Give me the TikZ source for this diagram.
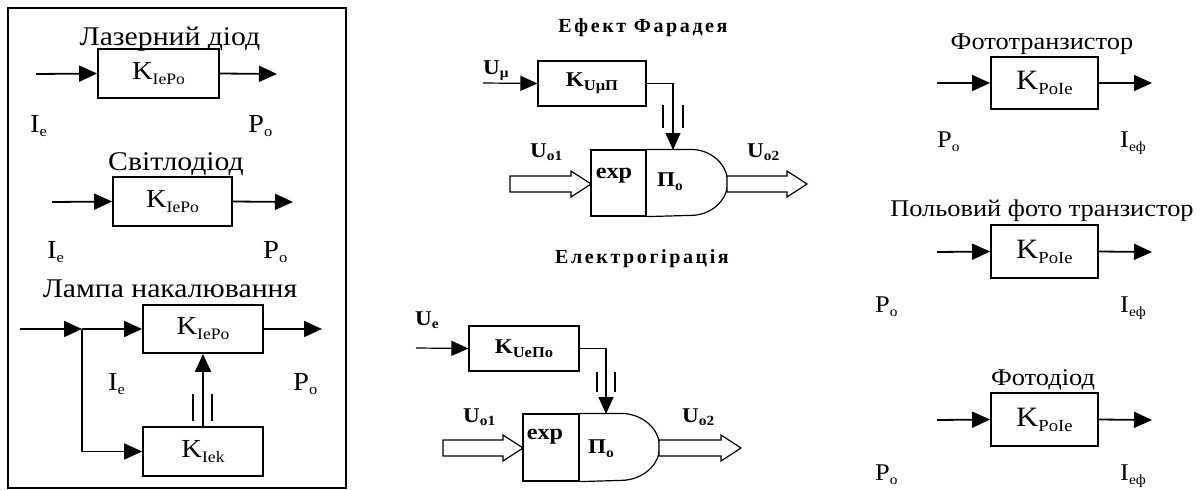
\documentclass[tikz,border=0pt]{standalone}
\usepackage{fontspec}
\setmainfont{Liberation Serif}[FakeStretch=1.1]
\newfontfamily\lsfont{Liberation Serif}[LetterSpace=13]
\usetikzlibrary{arrows.meta,calc}
\newcommand{\SL}[5]{{\fontsize{#3}{#3}\selectfont #1}\raisebox{-#5pt}{\fontsize{#4}{#4}\selectfont #2}}
\tikzset{
  blk/.style={draw, line width=1.8pt, inner sep=0pt},
  thinblk/.style={draw, line width=1.2pt, inner sep=0pt},
  sig/.style={line width=1.8pt, -{Triangle[length=18pt,width=16pt]}},
  thinsig/.style={line width=1.2pt, -{Triangle[length=17pt,width=15pt]}},
  bar/.style={line width=1.5pt},
  hollow/.style={draw, line width=1.2pt, fill=white},
  ttl/.style={inner sep=0pt, anchor=base, font=\fontsize{24}{24}\selectfont},
  lttl/.style={inner sep=0pt, anchor=base, font=\fontsize{27}{27}\selectfont},
  btl/.style={inner sep=0pt, anchor=base, font=\lsfont\bfseries\fontsize{20}{20}\selectfont},
  lbl/.style={inner sep=0pt, anchor=base west},
}
\begin{document}
\begin{tikzpicture}[x=1pt,y=-1pt]
\useasboundingbox (0,0) rectangle (1203,490);
% ---------- left panel ----------
\draw[line width=1.8pt] (8,8) rectangle (346,488);
\node[lttl] (t1) at (170,45) {Лазерний діод};
\node[blk, minimum width=121pt, minimum height=49pt] (b1) at (158.5,73.5) {\SL{K}{IePo}{26}{16}{5}};
\coordinate (i1) at (36,74);
\coordinate (o1) at (277,74);
\draw[sig] (i1) -- (b1.west);
\draw[sig] (b1.east) -- (o1);
\node[lbl] (l1a) at (30,132) {\SL{I}{e}{26}{15}{4}};
\node[lbl] (l1b) at (248,132) {\SL{P}{o}{26}{15}{4}};

\node[lttl] (t2) at (176,170) {Світлодіод};
\node[blk, minimum width=119pt, minimum height=49pt] (b2) at (172.5,201.5) {\SL{K}{IePo}{26}{16}{5}};
\coordinate (i2) at (52,202);
\coordinate (o2) at (293,202);
\draw[sig] (i2) -- (b2.west);
\draw[sig] (b2.east) -- (o2);
\node[lbl] (l2a) at (47,258) {\SL{I}{e}{26}{15}{4}};
\node[lbl] (l2b) at (263,258) {\SL{P}{o}{26}{15}{4}};

\node[lttl] (t3) at (170,297) {Лампа накалювання};
\node[blk, minimum width=120pt, minimum height=48pt] (b3) at (203,329) {\SL{K}{IePo}{26}{16}{5}};
\node[blk, minimum width=120pt, minimum height=49pt] (b4) at (203,451.5) {\SL{K}{Iek}{26}{16}{5}};
\coordinate (i3) at (20,329);
\coordinate (j3) at (82,329);
\coordinate (o3) at (322,329);
\draw[sig] (i3) -- (j3);
\draw[sig] (j3) -- (b3.west);
\draw[sig] (j3) |- (b4.west);
\draw[sig] (b3.east) -- (o3);
\draw[sig] (b4.north) -- (b3.south);
\draw[bar] ($(b4.north)+(-10,-5)$) -- ($(b4.north)+(-10,-32)$);
\draw[bar] ($(b4.north)+(9,-5)$) -- ($(b4.north)+(9,-32)$);
\node[lbl] (l3a) at (108,390) {\SL{I}{e}{26}{15}{4}};
\node[lbl] (l3b) at (293,390) {\SL{P}{o}{26}{15}{4}};

% ---------- middle top: Faraday ----------
\node[btl] (t4) at (643,32) {Ефект Фарадея};
\node[lbl] (u1) at (483,74) {\bfseries\SL{U}{μ}{21}{14}{3}};
\node[thinblk, minimum width=108pt, minimum height=45pt] (k1) at (592,83.5) {\bfseries\SL{K}{UμП}{21}{15}{4}};
\coordinate (ui1) at (483,83);
\draw[thinsig] (ui1) -- (k1.west);
\node[thinblk, minimum width=55pt, minimum height=66pt] (e1) at (618.5,183) {};
\draw[line width=1.2pt] (e1.north east) -- ++(44,0) arc[start angle=90, end angle=-90, x radius=37pt, y radius=33pt] -- (e1.south east);
\coordinate (g1) at (673,150);
\draw[thinsig] (k1.east) -| (g1);
\draw[bar, line width=1.2pt] (663,105) -- (663,128);
\draw[bar, line width=1.2pt] (683,105) -- (683,128);
\node[inner sep=0pt] (x1) at (614,176) {\bfseries\fontsize{22}{22}\selectfont exp};
\node[inner sep=0pt] (p1) at (670,182) {\bfseries\SL{П}{o}{21}{14}{4}};
\draw[hollow] (510,176) -- (571,176) -- (571,171) -- (591,184) -- (571,197) -- (571,192) -- (510,192) -- cycle;
\draw[hollow] (727,176) -- (787,176) -- (787,171) -- (807,184) -- (787,197) -- (787,192) -- (727,192) -- cycle;
\node[lbl] (uo1) at (530,157) {\bfseries\SL{U}{o1}{21}{14}{3}};
\node[lbl] (uo2) at (747,157) {\bfseries\SL{U}{o2}{21}{14}{3}};

% ---------- middle bottom: electrogyration ----------
\node[btl] (t5) at (642,263) {Електрогірація};
\node[lbl] (u2) at (415,325) {\bfseries\SL{U}{e}{21}{14}{3}};
\node[thinblk, minimum width=110pt, minimum height=45pt] (k2) at (524,348.5) {\bfseries\SL{K}{UeПo}{21}{15}{4}};
\coordinate (ui2) at (416,348);
\draw[thinsig] (ui2) -- (k2.west);
\node[thinblk, minimum width=56pt, minimum height=67pt] (e2) at (551,447.5) {};
\draw[line width=1.2pt] (e2.north east) -- ++(41,0) arc[start angle=90, end angle=-90, x radius=39pt, y radius=33.5pt] -- (e2.south east);
\coordinate (g2) at (606,414);
\draw[thinsig] (k2.east) -| (g2);
\draw[bar, line width=1.2pt] (597,372) -- (597,392);
\draw[bar, line width=1.2pt] (615,372) -- (615,392);
\node[inner sep=0pt] (x2) at (545,437) {\bfseries\fontsize{22}{22}\selectfont exp};
\node[inner sep=0pt] (p2) at (601,449) {\bfseries\SL{П}{o}{21}{14}{4}};
\draw[hollow] (443,440) -- (503,440) -- (503,435) -- (523,448) -- (503,461) -- (503,456) -- (443,456) -- cycle;
\draw[hollow] (659,440) -- (721,440) -- (721,435) -- (741,448) -- (721,461) -- (721,456) -- (659,456) -- cycle;
\node[lbl] (uo3) at (463,422) {\bfseries\SL{U}{o1}{21}{14}{3}};
\node[lbl] (uo4) at (682,422) {\bfseries\SL{U}{o2}{21}{14}{3}};

% ---------- right column ----------
\node[ttl] (t6) at (1042,49) {Фототранзистор};
\node[blk, minimum width=107pt, minimum height=52pt] (r1) at (1044.5,83) {\SL{K}{PoIe}{28}{17}{5}};
\coordinate (ri1) at (937,83);
\coordinate (ro1) at (1152,83);
\draw[sig] (ri1) -- (r1.west);
\draw[sig] (r1.east) -- (ro1);
\node[lbl] (rp1) at (937,147) {\SL{P}{o}{24}{14}{4}};
\node[lbl] (ri1l) at (1120,147) {\SL{I}{eф}{24}{14}{4}};

\node[ttl] (t7) at (1042,216) {Польовий фото транзистор};
\node[blk, minimum width=107pt, minimum height=53pt] (r2) at (1044.5,251.5) {\SL{K}{PoIe}{28}{17}{5}};
\coordinate (ri2) at (937,252);
\coordinate (ro2) at (1152,252);
\draw[sig] (ri2) -- (r2.west);
\draw[sig] (r2.east) -- (ro2);
\node[lbl] (rp2) at (875,312) {\SL{P}{o}{24}{14}{4}};
\node[lbl] (ri2l) at (1120,312) {\SL{I}{eф}{24}{14}{4}};

\node[ttl] (t8) at (1043,385) {Фотодіод};
\node[blk, minimum width=107pt, minimum height=53pt] (r3) at (1044.5,419.5) {\SL{K}{PoIe}{28}{17}{5}};
\coordinate (ri3) at (937,420);
\coordinate (ro3) at (1152,420);
\draw[sig] (ri3) -- (r3.west);
\draw[sig] (r3.east) -- (ro3);
\node[lbl] (rp3) at (875,480) {\SL{P}{o}{24}{14}{4}};
\node[lbl] (ri3l) at (1120,480) {\SL{I}{eф}{24}{14}{4}};
\end{tikzpicture}
\end{document}
